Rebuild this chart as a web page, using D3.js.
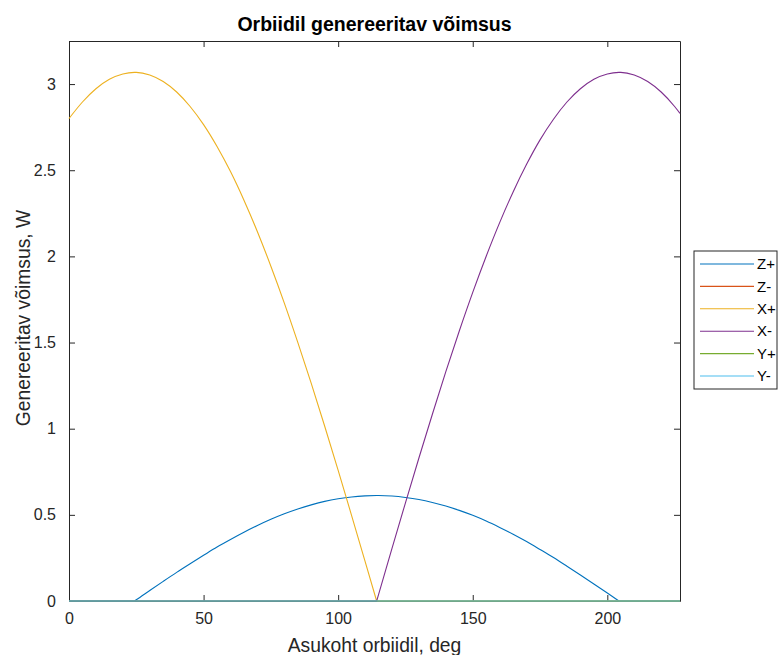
<!DOCTYPE html>
<html>
<head>
<meta charset="utf-8">
<script src="https://cdn.jsdelivr.net/npm/d3@7"></script>
<style>
  body { margin: 0; background: #fff; }
  svg text { font-family: "Liberation Sans", Arial, Helvetica, sans-serif; }
</style>
</head>
<body>
<div id="d3-container"></div>
<script>
/* DATA */
const angle = [0, 5, 10, 15, 20, 24.3, 25, 30, 35, 40, 45, 50, 55, 60, 65, 70, 75, 80, 85, 90,
  95, 100, 105, 110, 114.3, 115, 120, 125, 130, 135, 140, 145, 150, 155, 160, 165, 170, 175,
  180, 185, 190, 195, 200, 204.3, 205, 210, 215, 220, 225, 227];

const zPlus = [0, 0, 0, 0, 0, 0, 0.007, 0.061, 0.114, 0.166, 0.216, 0.265, 0.313, 0.357, 0.399,
  0.438, 0.474, 0.506, 0.534, 0.558, 0.578, 0.593, 0.604, 0.610, 0.612, 0.612, 0.609, 0.601,
  0.589, 0.572, 0.551, 0.526, 0.497, 0.464, 0.427, 0.388, 0.345, 0.299, 0.252, 0.202, 0.151,
  0.099, 0.046, 0, 0, 0, 0, 0, 0, 0];

const xPlus = [2.80, 2.896, 2.973, 3.028, 3.059, 3.068, 3.068, 3.053, 3.015, 2.954, 2.870, 2.765,
  2.638, 2.492, 2.326, 2.143, 1.943, 1.729, 1.501, 1.263, 1.014, 0.758, 0.496, 0.230, 0, 0, 0,
  0, 0, 0, 0, 0, 0, 0, 0, 0, 0, 0, 0, 0, 0, 0, 0, 0, 0, 0, 0, 0, 0, 0];

const xMinus = [0, 0, 0, 0, 0, 0, 0, 0, 0, 0, 0, 0, 0, 0, 0, 0, 0, 0, 0, 0, 0, 0, 0, 0, 0,
  0.037, 0.305, 0.570, 0.830, 1.084, 1.331, 1.567, 1.791, 2.001, 2.196, 2.374, 2.534, 2.676,
  2.796, 2.896, 2.973, 3.028, 3.059, 3.068, 3.068, 3.053, 3.015, 2.954, 2.870, 2.830];

// the flat series only need their two end points
const flatAngle = [0, 227];
const zMinus = [0, 0];
const yPlus = [0, 0];
const yMinus = [0, 0];

const seriesNames = ["Z+", "Z-", "X+", "X-", "Y+", "Y-"];
const seriesColors = ["#0072BD", "#D95319", "#EDB120", "#7E2F8E", "#77AC30", "#4DBEEE"];
const xTicks = [0, 50, 100, 150, 200];
const yTicks = [0, 0.5, 1, 1.5, 2, 2.5, 3];

/* CONSTANTS */
const width = 778,
  height = 655,
  margin = { top: 41, bottom: 54, left: 69, right: 98 };

const series = [
  { name: seriesNames[0], x: angle, y: zPlus },
  { name: seriesNames[1], x: flatAngle, y: zMinus },
  { name: seriesNames[2], x: angle, y: xPlus },
  { name: seriesNames[3], x: angle, y: xMinus },
  { name: seriesNames[4], x: flatAngle, y: yPlus },
  { name: seriesNames[5], x: flatAngle, y: yMinus },
].map((s, i) => ({ ...s, color: seriesColors[i], points: s.x.map((a, j) => [a, s.y[j]]) }));

/* SCALES */
const xScale = d3.scaleLinear()
  .domain([0, 227])
  .range([margin.left, width - margin.right]);

const yScale = d3.scaleLinear()
  .domain([0, 3.25])
  .range([height - margin.bottom, margin.top]);

const svg = d3.select("#d3-container")
  .append("svg")
  .attr("width", width)
  .attr("height", height);

/* AXES - ticks point inwards, mirrored on all four sides; drawn under the data */
const axisColor = "#262626";
const tickLen = 6;

function styleAxis(g) {
  g.select(".domain").attr("stroke", axisColor);
  g.selectAll(".tick line").attr("stroke", axisColor);
  g.selectAll(".tick text").attr("fill", axisColor).attr("font-size", 16);
}

svg.append("g")
  .attr("transform", `translate(0,${height - margin.bottom})`)
  .call(d3.axisBottom(xScale).tickValues(xTicks).tickSizeInner(-tickLen).tickSizeOuter(0).tickPadding(12))
  .call(styleAxis);

svg.append("g")
  .attr("transform", `translate(0,${margin.top})`)
  .call(d3.axisTop(xScale).tickValues(xTicks).tickSizeInner(-tickLen).tickSizeOuter(0).tickFormat(""))
  .call(styleAxis);

svg.append("g")
  .attr("transform", `translate(${margin.left},0)`)
  .call(d3.axisLeft(yScale).tickValues(yTicks).tickFormat(d3.format("~g"))
    .tickSizeInner(-tickLen).tickSizeOuter(0).tickPadding(13))
  .call(styleAxis);

svg.append("g")
  .attr("transform", `translate(${width - margin.right},0)`)
  .call(d3.axisRight(yScale).tickValues(yTicks).tickSizeInner(-tickLen).tickSizeOuter(0).tickFormat(""))
  .call(styleAxis);

/* LINES */
// the positive arcs get a smooth curve, the zero stretches stay straight,
// so the sharp corners where a panel switches on/off are kept
const isActive = (d, i, data) =>
  d[1] > 0 || (i > 0 && data[i - 1][1] > 0) || (i < data.length - 1 && data[i + 1][1] > 0);

const arcLine = d3.line()
  .defined(isActive)
  .curve(d3.curveMonotoneX)
  .x(d => xScale(d[0]))
  .y(d => yScale(d[1]));

const flatLine = d3.line()
  .defined(d => d[1] === 0)
  .x(d => xScale(d[0]))
  .y(d => yScale(d[1]));

const seriesG = svg.append("g")
  .selectAll("g")
  .data(series)
  .join("g")
  .attr("fill", "none")
  .attr("stroke", d => d.color)
  .attr("stroke-width", 1.1);

seriesG.append("path").attr("d", d => flatLine(d.points));
seriesG.append("path").attr("d", d => arcLine(d.points));

/* TITLE AND LABELS */
const midX = (margin.left + width - margin.right) / 2;

svg.append("text")
  .attr("x", midX)
  .attr("y", 31)
  .attr("text-anchor", "middle")
  .attr("font-size", 19.5)
  .attr("font-weight", "bold")
  .attr("fill", "#000")
  .text("Orbiidil genereeritav võimsus");

svg.append("text")
  .attr("x", midX)
  .attr("y", 652)
  .attr("text-anchor", "middle")
  .attr("font-size", 19.3)
  .attr("fill", axisColor)
  .text("Asukoht orbiidil, deg");

svg.append("text")
  .attr("transform", `translate(30,318) rotate(-90)`)
  .attr("text-anchor", "middle")
  .attr("font-size", 19.3)
  .attr("fill", axisColor)
  .text("Genereeritav võimsus, W");

/* LEGEND */
const legend = svg.append("g").attr("transform", "translate(694,251)");

legend.append("rect")
  .attr("width", 83)
  .attr("height", 138)
  .attr("fill", "#fff")
  .attr("stroke", axisColor);

const rowY = d3.scalePoint()
  .domain(seriesNames)
  .range([13, 125]);

const rows = legend.selectAll("g.row")
  .data(series)
  .join("g")
  .attr("class", "row")
  .attr("transform", d => `translate(0,${rowY(d.name)})`);

rows.append("line")
  .attr("x1", 6)
  .attr("x2", 60)
  .attr("stroke", d => d.color)
  .attr("stroke-width", 1.1);

rows.append("text")
  .attr("x", 63)
  .attr("dy", "0.35em")
  .attr("font-size", 15)
  .attr("fill", "#000")
  .text(d => d.name);
</script>
</body>
</html>
